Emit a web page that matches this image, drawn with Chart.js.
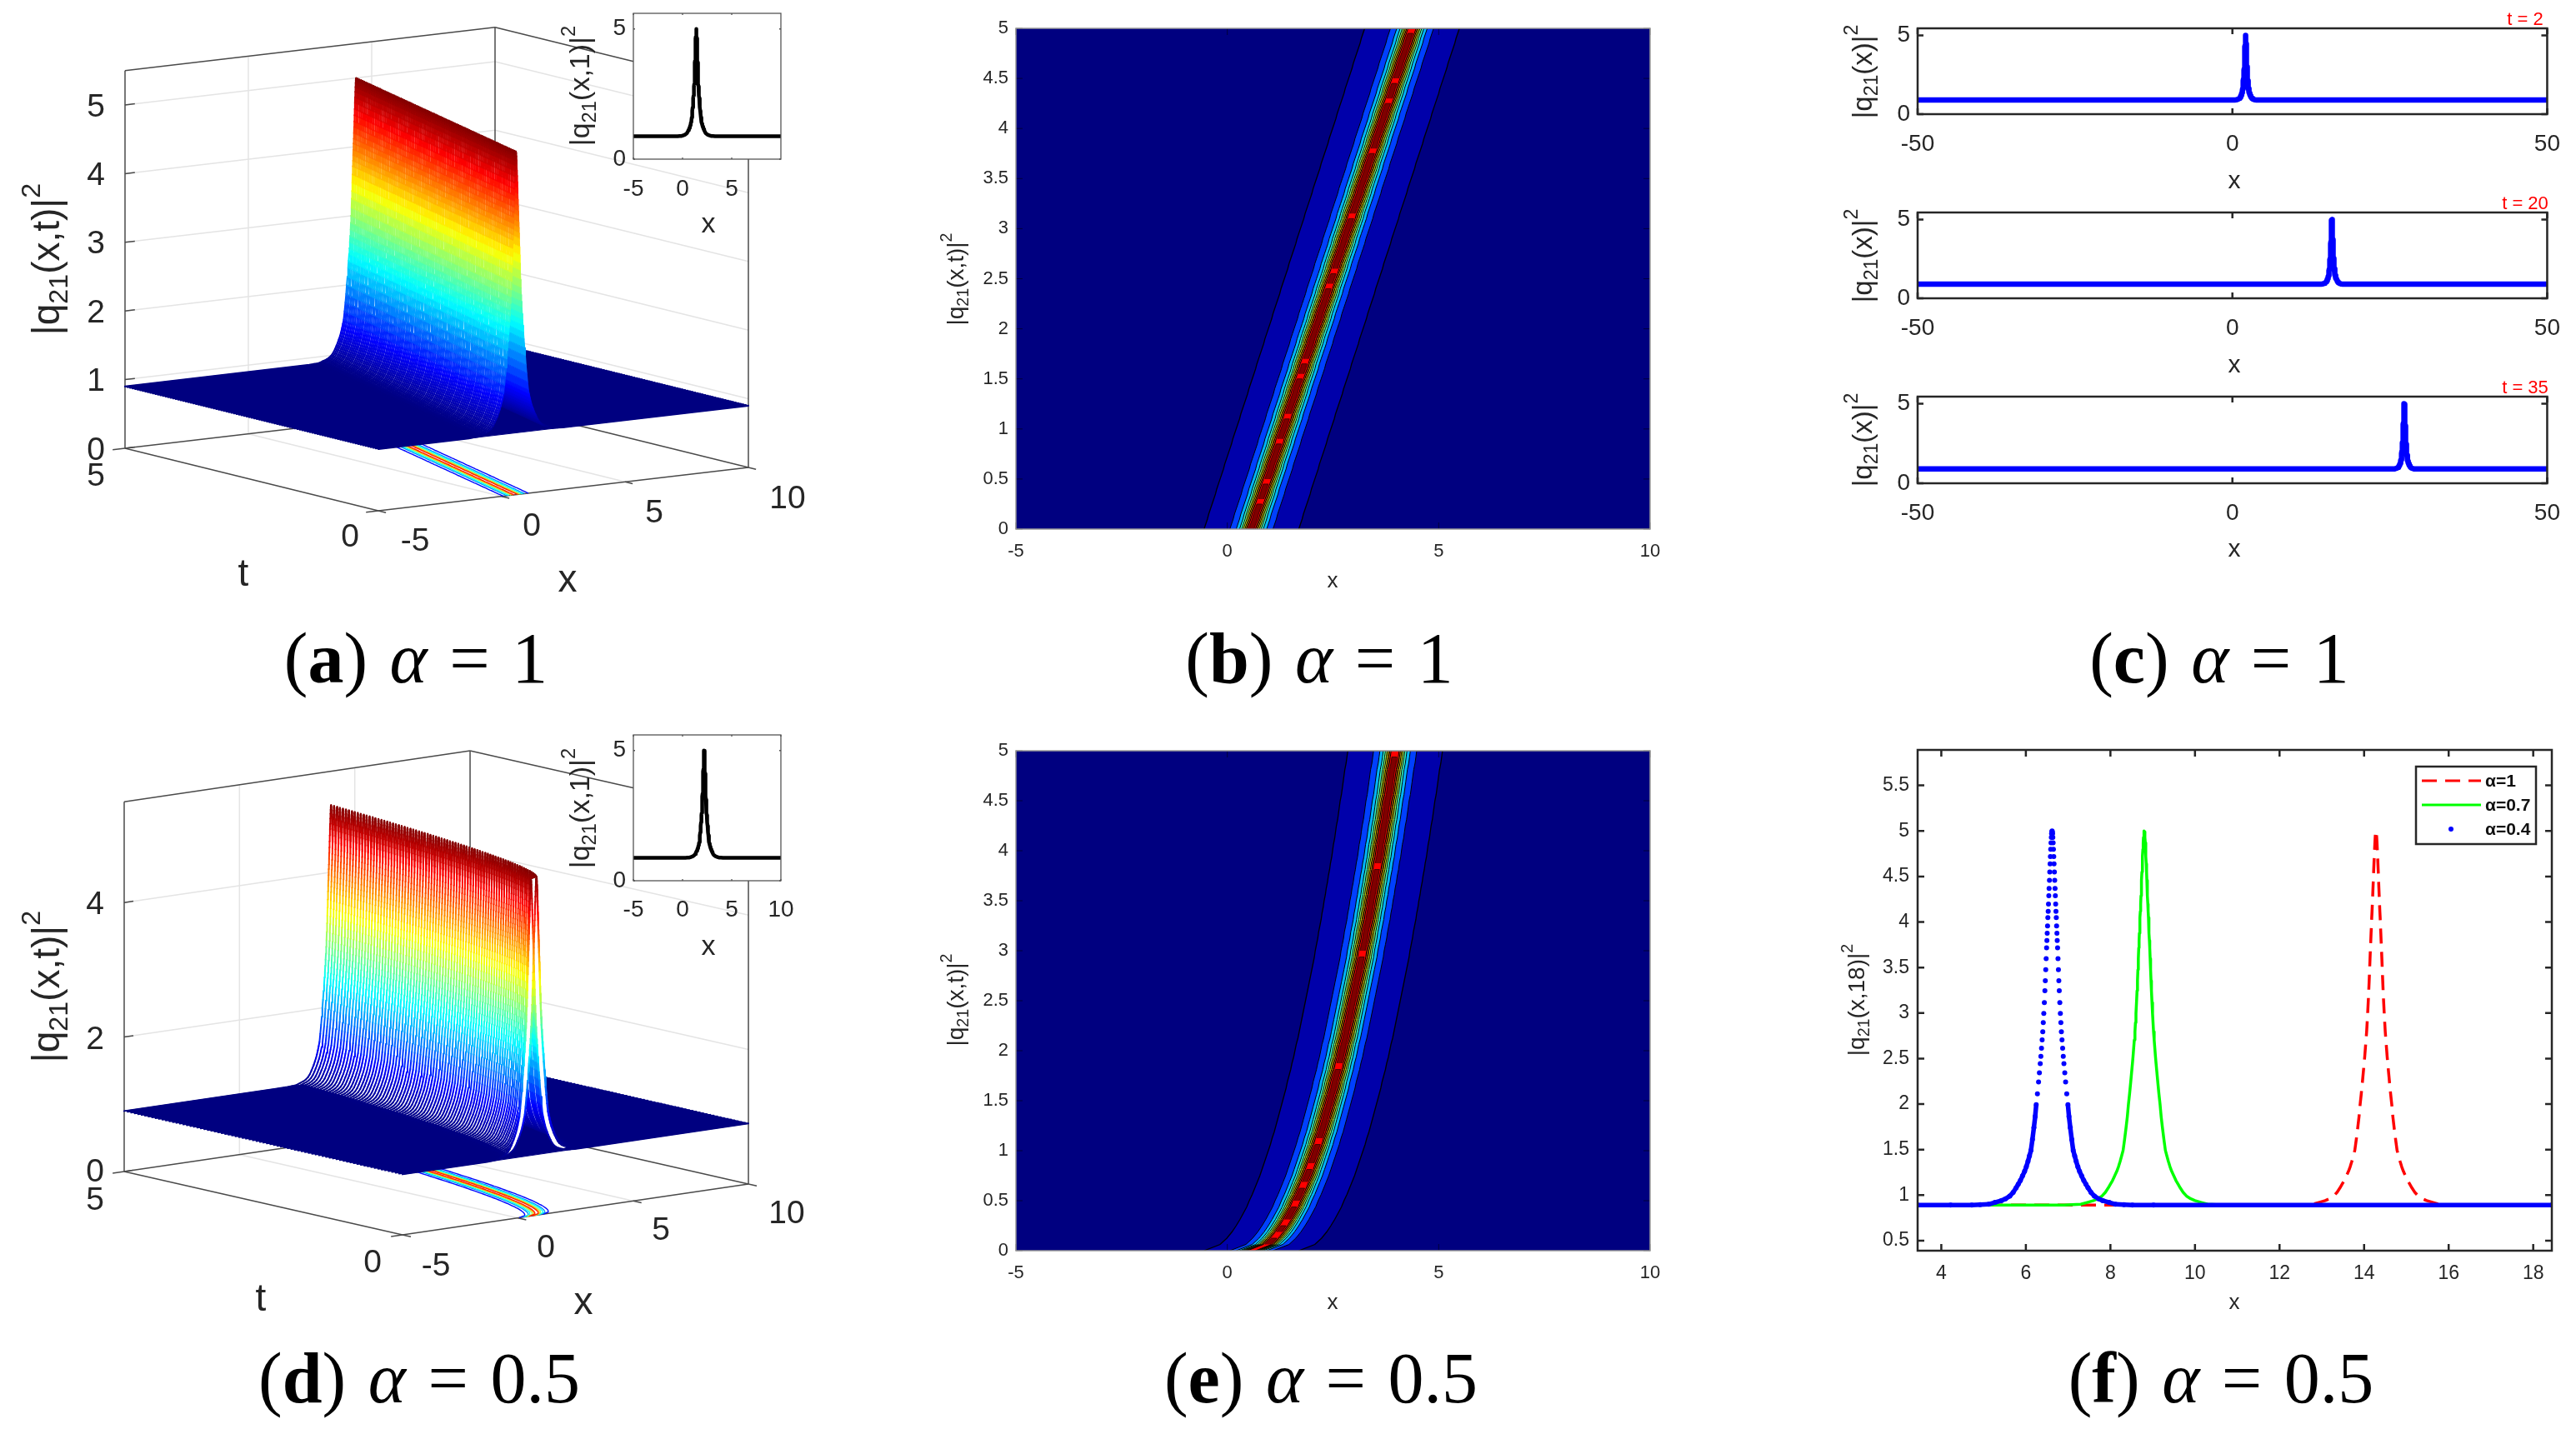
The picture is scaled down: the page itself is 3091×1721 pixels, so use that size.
<!DOCTYPE html>
<html>
<head>
<meta charset="utf-8">
<style>
  html, body { margin: 0; background: #fff; }
  body { position: relative; width: 3091px; height: 1721px; overflow: hidden; }
  canvas { position: absolute; display: block; }
  .cap { position: absolute; font-family: "Liberation Serif", serif; font-size: 86px; line-height: 100px;
         color: #000; white-space: pre; word-spacing: 5px; transform: translateX(-50%); }
</style>
<script src="https://cdn.jsdelivr.net/npm/chart.js@4/dist/chart.umd.js"></script>
</head>
<body>
<script>
// ---------- values ----------
// height profile of the soliton, distance from crest -> |q21|^2
const profileOffsets = [0, .006, .012, .018, .025, .032, .04, .047, .055, .062, .07, .077, .085, .092, .10, .107, .115, .122, .13, .14,
  .15, .16, .17, .183, .196, .208, .22, .235, .25, .265, .28, .30, .32, .347, .375, .40, .43, .465, .5, .535,
  .57, .61, .65, .70, .75, .80, .85, .92, 1, 1.1, 1.2, 1.35, 1.5, 1.7, 1.9, 2.4];
const profileValues = [5, 4.99, 4.97, 4.93, 4.87, 4.8, 4.72, 4.64, 4.55, 4.46, 4.37, 4.29, 4.2, 4.12, 4.05, 3.96, 3.88, 3.8, 3.72, 3.6,
  3.48, 3.36, 3.25, 3.12, 3, 2.9, 2.8, 2.71, 2.62, 2.53, 2.45, 2.35, 2.25, 2.12, 2, 1.87, 1.75, 1.62, 1.5, 1.44,
  1.38, 1.32, 1.27, 1.22, 1.17, 1.13, 1.09, 1.04, 1, .97, .95, .93, .91, .905, .9, .9];
const floorValue = 0.9;

// crest position, alpha = 1, one value per t = 0, 0.05, 0.10 ... 5
const crestOne = [.57, .61, .65, .68, .72, .76, .80, .84, .87, .91,
  .95, .99, 1.03, 1.06, 1.10, 1.14, 1.18, 1.22, 1.25, 1.29,
  1.33, 1.37, 1.41, 1.44, 1.48, 1.52, 1.56, 1.60, 1.63, 1.67,
  1.71, 1.75, 1.79, 1.82, 1.86, 1.90, 1.94, 1.98, 2.01, 2.05,
  2.09, 2.13, 2.17, 2.20, 2.24, 2.28, 2.32, 2.36, 2.39, 2.43,
  2.47, 2.51, 2.55, 2.58, 2.62, 2.66, 2.70, 2.74, 2.77, 2.81,
  2.85, 2.89, 2.93, 2.96, 3.00, 3.04, 3.08, 3.12, 3.15, 3.19,
  3.23, 3.27, 3.31, 3.34, 3.38, 3.42, 3.46, 3.50, 3.53, 3.57,
  3.61, 3.65, 3.69, 3.72, 3.76, 3.80, 3.84, 3.88, 3.91, 3.95,
  3.99, 4.03, 4.07, 4.10, 4.14, 4.18, 4.22, 4.26, 4.29, 4.33, 4.37];
const crestOneStep = 0.05;

// crest position, alpha = 0.5, one value per t = 0, 0.0625, 0.125 ... 5
const crestHalf = [.57, .95, 1.11, 1.23, 1.33, 1.42, 1.50, 1.58, 1.64, 1.71,
  1.77, 1.83, 1.89, 1.94, 1.99, 2.04, 2.09, 2.14, 2.18, 2.23,
  2.27, 2.31, 2.35, 2.39, 2.43, 2.47, 2.51, 2.54, 2.58, 2.62,
  2.65, 2.69, 2.72, 2.75, 2.79, 2.82, 2.85, 2.88, 2.91, 2.94,
  2.97, 3.00, 3.03, 3.06, 3.09, 3.12, 3.15, 3.18, 3.20, 3.23,
  3.26, 3.28, 3.31, 3.34, 3.36, 3.39, 3.41, 3.44, 3.46, 3.49,
  3.51, 3.54, 3.56, 3.59, 3.61, 3.63, 3.66, 3.68, 3.70, 3.73,
  3.75, 3.77, 3.79, 3.82, 3.84, 3.86, 3.88, 3.90, 3.93, 3.95, 3.97];
const crestHalfStep = 0.0625;

// contour bands of the top view, half width around the crest
const bandWidths = [1.12, .51, .36, .28, .23, .19, .155, .125, .095];
const bandColors = ['#0000aa', '#0040ff', '#00b4ff', '#30ffd0', '#90ff70', '#e8f000', '#ffa800', '#ff5000', '#ff0000'];
const coreWidth = 0.06;
const coreColor = '#800000';
// crest slices where the dark core pinches off into red
const coreBreaksOne = [0, 6, 10, 18, 23, 31, 34, 49, 52, 63, 76, 86, 90, 100];
const coreBreaksHalf = [1, 3, 5, 8, 11, 14, 18, 30, 48, 62, 80];

const heatXTicks = [-5, 0, 5, 10];
const heatYTicks = [0, .5, 1, 1.5, 2, 2.5, 3, 3.5, 4, 4.5, 5];

const surfaceZTicksOne = [0, 1, 2, 3, 4, 5];
const surfaceZTicksHalf = [0, 2, 4];
const surfaceXTicks = [-5, 0, 5, 10];
const surfaceTTicks = [0, 5];
const contourWidths = [.51, .36, .28, .19, .125, .07];

const insetPeakOne = 1.4;
const insetPeakHalf = 2.2;
const insetBase = 0.88;

const sliceTimes = ['t = 2', 't = 20', 't = 35'];
const slicePeaks = [2.1, 15.8, 27.3];
const sliceXTicks = [-50, 0, 50];
const sliceYTicks = [0, 5];

const compareLabels = ['α=1', 'α=0.7', 'α=0.4'];
const comparePeaks = [14.28, 8.8, 6.62];
const compareBase = 0.89;
const compareXTicks = [4, 6, 8, 10, 12, 14, 16, 18];
const compareYTicks = [.5, 1, 1.5, 2, 2.5, 3, 3.5, 4, 4.5, 5, 5.5];

const captionLetters = ['a', 'b', 'c', 'd', 'e', 'f'];
const captionAlphas = ['1', '1', '1', '0.5', '0.5', '0.5'];

// ---------- helpers ----------
const SANS = '"Liberation Sans", Arial, sans-serif';
const INK = '#262626';

function clamp01(v) { return Math.max(0, Math.min(1, v)); }
function jet(v) {
  const r = clamp01(1.5 - Math.abs(4 * v - 3));
  const g = clamp01(1.5 - Math.abs(4 * v - 2));
  const b = clamp01(1.5 - Math.abs(4 * v - 1));
  return `rgb(${Math.round(r * 255)},${Math.round(g * 255)},${Math.round(b * 255)})`;
}
function heightColor(z) { return jet((z - floorValue) / (5 - floorValue)); }

// curve of one soliton, crest at center, cut to [lo, hi]
function solitonCurve(center, lo, hi, base) {
  const pts = [{ x: lo, y: base }];
  const shift = base - floorValue;
  const lift = v => v + shift * (1 - (v - floorValue) / 4.1);
  for (let i = profileOffsets.length - 1; i > 0; i--) {
    pts.push({ x: center - profileOffsets[i], y: lift(profileValues[i]) });
  }
  for (let i = 0; i < profileOffsets.length; i++) {
    pts.push({ x: center + profileOffsets[i], y: lift(profileValues[i]) });
  }
  pts.push({ x: hi, y: base });
  return pts.filter(p => p.x >= lo && p.x <= hi);
}

function drawRuns(ctx, runs, size, cx, cy, rot, color) {
  ctx.save();
  ctx.translate(cx, cy);
  ctx.rotate(rot || 0);
  ctx.fillStyle = color || INK;
  ctx.textBaseline = 'alphabetic';
  ctx.textAlign = 'left';
  const fontFor = k => `${k ? size * 0.7 : size}px ${SANS}`;
  let total = 0;
  runs.forEach(r => { ctx.font = fontFor(r[1]); total += ctx.measureText(r[0]).width; });
  let x = -total / 2;
  runs.forEach(r => {
    ctx.font = fontFor(r[1]);
    const dy = r[1] < 0 ? size * 0.22 : r[1] > 0 ? -size * 0.5 : 0;
    ctx.fillText(r[0], x, size * 0.36 + dy);
    x += ctx.measureText(r[0]).width;
  });
  ctx.restore();
}

// items are given in page pixels
function labelsPlugin(items) {
  return {
    id: 'figureLabels',
    afterDatasetsDraw(chart) {
      const ox = parseFloat(chart.canvas.style.left);
      const oy = parseFloat(chart.canvas.style.top);
      items.forEach(it => drawRuns(chart.ctx, it.runs, it.size, it.x - ox, it.y - oy, it.rot, it.color));
    }
  };
}

function framePlugin(o) {
  return {
    id: 'axesFrame',
    beforeDatasetsDraw(chart) {
      if (!o.fill) return;
      const a = chart.chartArea;
      chart.ctx.fillStyle = o.fill;
      chart.ctx.fillRect(a.left, a.top, a.width, a.height);
    },
    afterDatasetsDraw(chart) {
      const a = chart.chartArea, ctx = chart.ctx;
      ctx.save();
      ctx.strokeStyle = o.tickColor || o.color;
      ctx.lineWidth = o.tickWidth || o.width;
      ctx.beginPath();
      chart.scales.x.ticks.forEach(t => {
        const p = chart.scales.x.getPixelForValue(t.value);
        ctx.moveTo(p, a.bottom); ctx.lineTo(p, a.bottom - o.tick);
        ctx.moveTo(p, a.top); ctx.lineTo(p, a.top + o.tick);
      });
      chart.scales.y.ticks.forEach(t => {
        const p = chart.scales.y.getPixelForValue(t.value);
        ctx.moveTo(a.left, p); ctx.lineTo(a.left + o.tick, p);
        ctx.moveTo(a.right, p); ctx.lineTo(a.right - o.tick, p);
      });
      ctx.stroke();
      ctx.strokeStyle = o.color;
      ctx.lineWidth = o.width;
      ctx.strokeRect(a.left, a.top, a.width, a.height);
      ctx.restore();
    }
  };
}

function makeChart(left, top, width, height, datasets, scales, layoutPadding, plugins) {
  const c = document.createElement('canvas');
  c.width = width; c.height = height;
  c.style.left = left + 'px'; c.style.top = top + 'px';
  c.style.width = width + 'px'; c.style.height = height + 'px';
  document.body.appendChild(c);
  return new Chart(c, {
    type: 'scatter',
    data: { datasets },
    options: {
      responsive: false, animation: false, devicePixelRatio: 1, events: [],
      layout: { padding: layoutPadding },
      plugins: { legend: { display: false }, tooltip: { enabled: false }, title: { display: false } },
      scales
    },
    plugins
  });
}

function axisOptions(range, ticks, size, pad, fit) {
  return {
    type: 'linear', min: range[0], max: range[1],
    afterBuildTicks: a => { a.ticks = ticks.map(v => ({ value: v })); },
    afterFit: fit,
    grid: { display: false, drawTicks: false },
    border: { display: false },
    ticks: {
      autoSkip: false, maxRotation: 0, padding: pad, color: INK,
      font: { family: SANS, size }, callback: v => String(v)
    }
  };
}

// a 2D axes whose plot area lands exactly on box (page pixels)
function plotPanel(box, m, xr, yr, xt, yt, font, padX, padY, datasets, frame, labels, extraPlugins) {
  const w = box.r - box.l + m.l + m.r;
  const h = box.b - box.t + m.t + m.b;
  const scales = {
    x: axisOptions(xr, xt, font, padX, s => { s.height = m.b; }),
    y: axisOptions(yr, yt, font, padY, s => { s.width = m.l; })
  };
  return makeChart(box.l - m.l, box.t - m.t, w, h, datasets, scales,
    { top: m.t, right: m.r, left: 0, bottom: 0 },
    [framePlugin(frame), labelsPlugin(labels)].concat(extraPlugins || []));
}

function ordered(list) {
  // painter's order: first entry is painted first
  list.forEach((d, i) => { d.order = list.length - i; });
  return list;
}

function lineSet(data, color, width, extra) {
  return Object.assign({ data, showLine: true, pointRadius: 0, borderColor: color, borderWidth: width, borderJoinStyle: 'round', tension: 0, fill: false }, extra);
}
function polygonSet(data, fillColor, edgeColor, edgeWidth) {
  return { data, showLine: true, pointRadius: 0, tension: 0, fill: 'shape', backgroundColor: fillColor, borderColor: edgeColor, borderWidth: edgeWidth };
}

// ---------- 3D surface panels ----------
function surfacePanel(view, crest, step, zTicks, meshWidth, backSide, labels, top) {
  const proj = (x, t, z) => ({
    x: view.o.x + (x + 5) * view.ux.x + t * view.ut.x,
    y: view.o.y + (x + 5) * view.ux.y + t * view.ut.y - z * view.uz
  });
  const list = [];
  const seg = (a, b, color, width) => list.push(lineSet([proj(a[0], a[1], a[2]), proj(b[0], b[1], b[2])], color, width));
  const grid = '#e4e4e4', edge = '#4a4a4a', zTop = 5.5;

  // gridlines on the two back walls and the ground
  zTicks.forEach(z => {
    if (z === 0) return;
    seg([-5, 5, z], [10, 5, z], grid, 1.5);
    seg([10, 5, z], [10, 0, z], grid, 1.5);
  });
  surfaceXTicks.slice(1, 3).forEach(x => {
    seg([x, 5, 0], [x, 5, zTop], grid, 1.5);
    seg([x, 5, 0], [x, 0, 0], grid, 1.5);
  });

  // box edges
  seg([-5, 5, 0], [-5, 5, zTop], edge, 1.5);
  seg([-5, 5, zTop], [10, 5, zTop], edge, 1.5);
  seg([10, 5, 0], [10, 5, zTop], edge, 1.5);
  seg([10, 5, zTop], [10, 0, zTop], edge, 1.5);
  seg([10, 0, 0], [10, 0, zTop], edge, 1.5);
  seg([-5, 5, 0], [10, 5, 0], edge, 1.5);
  seg([10, 5, 0], [10, 0, 0], edge, 1.5);
  seg([-5, 5, 0], [-5, 0, 0], edge, 1.5);
  seg([-5, 0, 0], [10, 0, 0], edge, 1.5);

  // ticks
  surfaceXTicks.forEach(x => seg([x, 0, 0], [x, -0.15, 0], edge, 1.5));
  surfaceTTicks.forEach(t => seg([-5, t, 0], [-5.5, t, 0], edge, 1.5));
  zTicks.forEach(z => seg([-5, 5, z], [-4.6, 5, z], edge, 1.5));

  // contour lines on the ground plane
  contourWidths.forEach(d => {
    const k = profileOffsets.findIndex(o => o >= d);
    const color = heightColor(profileValues[k]);
    [-1, 1].forEach(sign => {
      const pts = crest.map((c, i) => proj(c + sign * d, i * step, 0));
      list.push(lineSet(pts, color, 1.4));
    });
  });

  // flat part of the surface
  list.push(polygonSet([proj(-5, 0, floorValue), proj(10, 0, floorValue), proj(10, 5, floorValue), proj(-5, 5, floorValue)], '#000080', '#000080', 1));

  // strips of the surface, back to front
  const sideStrip = (i, sign) => {
    const near = [], far = [];
    profileOffsets.forEach((d, k) => {
      if (profileValues[k] <= floorValue + 0.01) return;
      near.push(proj(crest[i] + sign * d, i * step, profileValues[k]));
      far.push(proj(crest[i + 1] + sign * d, (i + 1) * step, profileValues[k]));
    });
    return near.concat(far.reverse());
  };
  const meshLine = i => {
    const curve = solitonCurve(crest[i], -5, 10, floorValue);
    const colors = curve.map((p, k) => k < curve.length - 1 ? heightColor((p.y + curve[k + 1].y) / 2) : '#000080');
    return lineSet(curve.map(p => proj(p.x, i * step, p.y)), '#000080', meshWidth, {
      borderCapStyle: 'round',
      segment: { borderColor: c => colors[c.p0DataIndex] }
    });
  };
  for (let i = crest.length - 2; i >= 0; i--) {
    const t = i * step;
    // falling side, seen from inside near the front edge
    if (i < backSide.slices) {
      list.push(polygonSet(sideStrip(i, 1), '#ffffff', 'rgba(0,0,0,0)', 0));
      if (!backSide.gap || i % backSide.gap) {
        for (let k = 0; k < profileOffsets.length - 1; k++) {
          const c = heightColor((profileValues[k] + profileValues[k + 1]) / 2);
          list.push(polygonSet([
            proj(crest[i] + profileOffsets[k], t, profileValues[k]),
            proj(crest[i] + profileOffsets[k + 1], t, profileValues[k + 1]),
            proj(crest[i + 1] + profileOffsets[k + 1], t + step, profileValues[k + 1]),
            proj(crest[i + 1] + profileOffsets[k], t + step, profileValues[k])
          ], c, c, 0.8));
        }
      }
    }
    // rising side hides what is behind it, then the mesh line on its far edge
    list.push(polygonSet(sideStrip(i, -1), '#ffffff', 'rgba(0,0,0,0)', 0));
    list.push(meshLine(i + 1));
  }
  list.push(meshLine(0));

  const scales = {
    x: { type: 'linear', min: 0, max: 980, display: false },
    y: { type: 'linear', min: top, max: top + 760, reverse: true, display: false }
  };
  return makeChart(0, top, 980, 760, ordered(list), scales, 0, [labelsPlugin(labels)]);
}

const viewOne = { o: { x: 454, y: 613 }, ux: { x: 29.6, y: -3.47 }, ut: { x: -60.8, y: -15 }, uz: 82.4 };
const viewHalf = { o: { x: 483, y: 1482 }, ux: { x: 27.67, y: -4.07 }, ut: { x: -66.8, y: -15.2 }, uz: 80.7 };

const qxt = [['|q', 0], ['21', -1], ['(x,t)|', 0], ['2', 1]];
const qx1 = [['|q', 0], ['21', -1], ['(x,1)|', 0], ['2', 1]];
const qx = [['|q', 0], ['21', -1], ['(x)|', 0], ['2', 1]];
const qx18 = [['|q', 0], ['21', -1], ['(x,18)|', 0], ['2', 1]];
const plain = (s, x, y, size, color) => ({ runs: [[s, 0]], x, y, size, color });
const UP = -Math.PI / 2;

surfacePanel(viewOne, crestOne, crestOneStep, surfaceZTicksOne, 2.2, { slices: 44, gap: 0 }, [
  plain('5', 115, 126, 39), plain('4', 115, 208, 39), plain('3', 115, 290, 39),
  plain('2', 115, 373, 39), plain('1', 115, 455, 39), plain('0', 115, 538, 39),
  plain('5', 115, 569, 39), plain('0', 420, 642, 39),
  plain('-5', 498, 647, 39), plain('0', 638, 629, 39), plain('5', 785, 613, 39), plain('10', 945, 596, 39),
  plain('t', 292, 686, 46), plain('x', 681, 693, 46),
  { runs: qxt, x: 54, y: 311, size: 46, rot: UP }
], 0);

surfacePanel(viewHalf, crestHalf, crestHalfStep, surfaceZTicksHalf, 2, { slices: 30, gap: 3 }, [
  plain('4', 114, 1083, 39), plain('2', 114, 1245, 39), plain('0', 114, 1404, 39),
  plain('5', 114, 1438, 39), plain('0', 447, 1513, 39),
  plain('-5', 523, 1517, 39), plain('0', 655, 1495, 39), plain('5', 793, 1474, 39), plain('10', 944, 1454, 39),
  plain('t', 313, 1556, 46), plain('x', 700, 1560, 46),
  { runs: qxt, x: 54, y: 1184, size: 46, rot: UP }
], 860);

// ---------- insets ----------
function insetPanel(box, peak, xTicks, labels, padX) {
  const data = solitonCurve(peak, -5, 10, insetBase);
  plotPanel(box, { l: 90, r: 60, t: 40, b: 100 }, [-5, 10], [0, 5.6], xTicks, [0, 5], 28, padX, 9,
    [lineSet(data, '#000', 4.5)],
    { color: '#555', width: 1.3, tick: 2, fill: '#fff' }, labels);
}
insetPanel({ l: 760, r: 937, t: 16, b: 191 }, insetPeakOne, [-5, 0, 5], [
  plain('x', 850, 267, 34), { runs: qx1, x: 695, y: 103, size: 34, rot: UP }
], 19);
insetPanel({ l: 760, r: 937, t: 882, b: 1057 }, insetPeakHalf, [-5, 0, 5, 10], [
  plain('x', 850, 1134, 34), { runs: qx1, x: 695, y: 970, size: 34, rot: UP }
], 18);

// ---------- contour panels ----------
function bandPolygon(crest, step, from, to, d) {
  const left = [], right = [];
  for (let i = from; i <= to; i++) {
    left.push({ x: crest[i] - d, y: i * step });
    right.push({ x: crest[i] + d, y: i * step });
  }
  return left.concat(right.reverse());
}

function heatPanel(box, crest, step, breaks, xLabelY, yLabelY) {
  const list = [];
  bandWidths.forEach((d, i) => {
    list.push(polygonSet(bandPolygon(crest, step, 0, crest.length - 1, d), bandColors[i], '#000', i === 0 ? 1.3 : 1));
  });
  for (let b = 0; b < breaks.length - 1; b++) {
    list.push(polygonSet(bandPolygon(crest, step, breaks[b], breaks[b + 1] - 1, coreWidth), coreColor, '#300000', 0.8));
  }
  plotPanel(box, { l: 120, r: 60, t: 40, b: 90 }, [-5, 10], [0, 5], heatXTicks, heatYTicks, 22, 14, 9,
    ordered(list), { color: '#9a9a9a', width: 1.5, tick: 8, tickColor: 'rgba(0,0,0,0.55)', tickWidth: 1, fill: '#000080' },
    [plain('x', 1599, xLabelY, 26), { runs: qxt, x: 1146, y: yLabelY, size: 28, rot: UP }]);
}
heatPanel({ l: 1219, r: 1980, t: 34, b: 635 }, crestOne, crestOneStep, coreBreaksOne, 696, 335);
heatPanel({ l: 1219, r: 1980, t: 901, b: 1501 }, crestHalf, crestHalfStep, coreBreaksHalf, 1562, 1200);

// ---------- three time slices ----------
const sliceBoxes = [{ l: 2301, r: 3062, t: 34, b: 137 }, { l: 2301, r: 3062, t: 255, b: 358 }, { l: 2301, r: 3062, t: 476, b: 580 }];
sliceTimes.forEach((name, i) => {
  const b = sliceBoxes[i];
  const data = solitonCurve(slicePeaks[i], -50, 50, floorValue);
  plotPanel(b, { l: 100, r: 29, t: 33, b: 95 }, [-50, 50], [0, 5.45], sliceXTicks, sliceYTicks, 28, 19, 9,
    [lineSet(data, '#0000ff', 6.5)],
    { color: INK, width: 2.5, tick: 7 },
    [plain(name, 3030, b.t - 12, 22, '#ff0000'),
     plain('x', 2681, b.t + 181, 30),
     { runs: qx, x: 2234, y: b.t + 52, size: 33, rot: UP }]);
});

// ---------- alpha comparison ----------
const redCurve = solitonCurve(comparePeaks[0], 3.44, 18.44, compareBase);
const greenCurve = solitonCurve(comparePeaks[1], 3.44, 18.44, compareBase);
const blueCurve = solitonCurve(comparePeaks[2], 3.44, 18.44, compareBase);

const legendPlugin = {
  id: 'alphaLegend',
  afterDatasetsDraw(chart) {
    const ctx = chart.ctx;
    const ox = parseFloat(chart.canvas.style.left), oy = parseFloat(chart.canvas.style.top);
    ctx.save();
    ctx.translate(-ox, -oy);
    ctx.fillStyle = '#fff';
    ctx.strokeStyle = INK;
    ctx.lineWidth = 2.5;
    ctx.fillRect(2899, 920, 144, 93);
    ctx.strokeRect(2899, 920, 144, 93);
    const rows = [937, 966, 995];
    ctx.lineWidth = 3;
    ctx.strokeStyle = '#ff0000';
    ctx.setLineDash([18, 10]);
    ctx.beginPath(); ctx.moveTo(2906, rows[0]); ctx.lineTo(2977, rows[0]); ctx.stroke();
    ctx.setLineDash([]);
    ctx.strokeStyle = '#00ff00';
    ctx.beginPath(); ctx.moveTo(2906, rows[1]); ctx.lineTo(2977, rows[1]); ctx.stroke();
    ctx.fillStyle = '#0000ff';
    ctx.beginPath(); ctx.arc(2941, rows[2], 3, 0, Math.PI * 2); ctx.fill();
    ctx.fillStyle = '#111';
    ctx.textBaseline = 'middle';
    ctx.font = `bold 21px ${SANS}`;
    compareLabels.forEach((s, i) => ctx.fillText(s, 2982, rows[i] + 1));
    ctx.restore();
  }
};

plotPanel({ l: 2301, r: 3062, t: 900, b: 1501 }, { l: 100, r: 29, t: 40, b: 90 },
  [3.44, 18.44], [0.39, 5.89], compareXTicks, compareYTicks, 23, 14, 10,
  ordered([
    lineSet(redCurve, '#ff0000', 3.5, { borderDash: [18, 10] }),
    lineSet(greenCurve, '#00ff00', 3.5),
    lineSet(blueCurve, '#0000ff', 5.5, {
      pointRadius: 3, pointBackgroundColor: '#0000ff', pointBorderWidth: 0,
      segment: { borderColor: c => (blueCurve[c.p0DataIndex].y < 2 && blueCurve[c.p1DataIndex].y < 2 ? '#0000ff' : 'rgba(0,0,0,0)') }
    })
  ]),
  { color: INK, width: 2.5, tick: 8 },
  [plain('x', 2681, 1562, 26), { runs: qx18, x: 2227, y: 1200, size: 28, rot: UP }],
  [legendPlugin]);

// ---------- captions ----------
const captionSpots = [[499, 740], [1583, 740], [2663, 740], [503, 1604], [1585, 1604], [2665, 1604]];
captionLetters.forEach((letter, i) => {
  const d = document.createElement('div');
  d.className = 'cap';
  d.style.left = captionSpots[i][0] + 'px';
  d.style.top = captionSpots[i][1] + 'px';
  d.innerHTML = `(<b>${letter}</b>) <i>α</i> = ${captionAlphas[i]}`;
  document.body.appendChild(d);
});
</script>
</body>
</html>
